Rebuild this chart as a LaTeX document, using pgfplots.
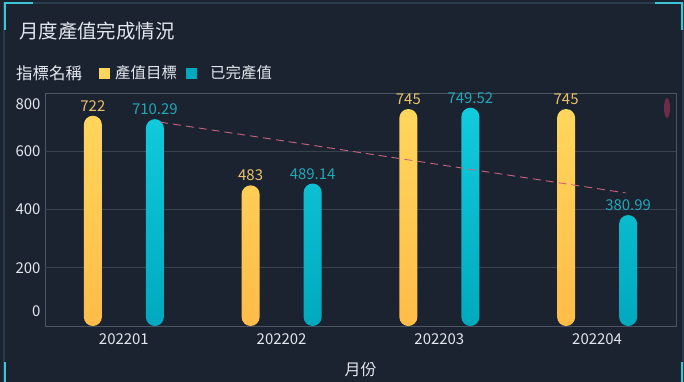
\documentclass[border=0pt]{standalone}
\usepackage{pgfplots}
\pgfplotsset{compat=1.18}
\usepackage{fontspec}
\setmainfont{Noto Sans CJK TC}
\definecolor{bg}{HTML}{1B2230}
\definecolor{bordercol}{HTML}{2A3C4C}
\definecolor{cornercol}{HTML}{3CC6D6}
\definecolor{txt}{HTML}{E4E8EE}
\definecolor{axiscol}{HTML}{4C5662}
\definecolor{gridcol}{HTML}{39434F}
\definecolor{ytop}{HTML}{FFD65C}
\definecolor{ybot}{HTML}{FFBC48}
\definecolor{ctop}{HTML}{12CBDD}
\definecolor{cbot}{HTML}{00A9BE}
\definecolor{ylab}{HTML}{E8C46A}
\definecolor{clab}{HTML}{23A7B7}
\definecolor{trend}{HTML}{C8647E}
\definecolor{handle}{HTML}{6E2C48}
\begin{document}
\begin{tikzpicture}
\begin{scope}[x=1bp,y=1bp]
\fill[bg] (0,0) rectangle (684,-382);
% panel border
\draw[bordercol, line width=1.2bp] (4,-382) -- (4,-3) -- (683,-3) -- (683,-382);
\draw[cornercol, line width=2.6bp] (5,-30) -- (5,-3) -- (33,-3);
\draw[cornercol, line width=2.6bp] (655,-3) -- (682,-3) -- (682,-30);
\draw[cornercol, line width=2.6bp] (5,-362) -- (5,-382);
\draw[cornercol, line width=2.6bp] (682,-362) -- (682,-382);
% title
\node[anchor=west, text=txt, font=\fontsize{19.5}{22}\selectfont, inner sep=0] at (19,-31) {月度產值完成情況};
% legend
\node[anchor=west, text=txt, font=\fontsize{16.5}{19}\selectfont, inner sep=0] at (16,-73) {指標名稱};
\fill[ytop] (99,-67.5) rectangle (109.5,-78.5);
\node[anchor=west, text=txt, font=\fontsize{15.5}{18}\selectfont, inner sep=0] at (115,-73) {產值目標};
\fill[cbot] (186,-67.5) rectangle (196.5,-78.5);
\node[anchor=west, text=txt, font=\fontsize{15.5}{18}\selectfont, inner sep=0] at (210,-73) {已完產值};
\end{scope}
\begin{axis}[
  at={(45bp,-326bp)}, anchor=south west,
  scale only axis, width=631bp, height=233bp,
  xmin=-0.5, xmax=3.5, ymin=0, ymax=800,
  axis line style={draw=axiscol, line width=0.8bp},
  xtick={0,1,2,3},
  xticklabels={202201,202202,202203,202204},
  ytick={50,200,400,600,760},
  yticklabels={0,200,400,600,800},
  extra y ticks={200,400,600},
  extra y tick labels={},
  extra y tick style={ymajorgrids=true, major grid style={draw=gridcol, line width=0.8bp}},
  major tick length=0pt,
  tick label style={text=txt, font=\fontsize{15}{18}\selectfont},
  /pgf/number format/assume math mode=true,
  xticklabel style={yshift=-4bp},
  yticklabel style={xshift=-1bp},
  xlabel={月份},
  xlabel style={text=txt, font=\fontsize{16}{19}\selectfont, yshift=-11bp},
  clip=false,
  point meta=explicit symbolic,
  nodes near coords,
  nodes near coords align={vertical},
  every node near coord/.append style={font=\fontsize{15}{18}\selectfont, inner sep=1.5bp, yshift=2.5bp},
]
\addplot[ybar, bar width=18bp, bar shift=-31bp, draw=none, top color=ytop, bottom color=ybot,
  rounded corners=9bp, every node near coord/.append style={text=ylab, xshift=-31bp}]
  coordinates {(0,722) [722] (1,483) [483] (2,745) [745] (3,745) [745]};
\addplot[ybar, bar width=18bp, bar shift=31bp, draw=none, top color=ctop, bottom color=cbot,
  rounded corners=9bp, every node near coord/.append style={text=clab, xshift=31bp}]
  coordinates {(0,710.29) [710.29] (1,489.14) [489.14] (2,749.52) [749.52] (3,380.99) [380.99]};
\addplot[trend, dash pattern=on 8bp off 5bp, line width=0.9bp, no marks, nodes near coords=]
  coordinates {(0.23,700) (3.18,457)};
\end{axis}
\fill[handle] (667bp,-108bp) ellipse (3bp and 10bp);
\pgfresetboundingbox
\useasboundingbox (0bp,0bp) rectangle (684bp,-382bp);
\end{tikzpicture}
\end{document}
